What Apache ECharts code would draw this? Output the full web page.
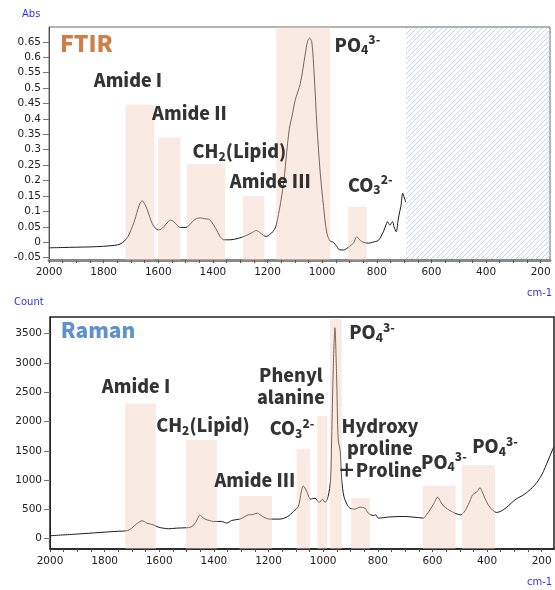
<!DOCTYPE html>
<html><head><meta charset="utf-8">
<script src="https://cdn.jsdelivr.net/npm/echarts@6/dist/echarts.min.js"></script>
<style>html,body{margin:0;padding:0;background:#fff}#c{width:555px;height:590px}</style>
</head><body><div id="c"></div>
<script>
// ---------- FTIR spectrum ----------
const ftirWavenumber = [2000,1950,1900,1850,1800,1760,1740,1725,1710,1690,1675,1665,1658,1650,1640,1623,1610,1600,1590,1578,1565,1555,1545,1530,1519,1500,1490,1476,1460,1445,1430,1416,1405,1390,1373,1360,1340,1320,1295,1275,1255,1241,1230,1215,1205,1192,1180,1170,1160,1150,1140,1130,1120,1110,1099,1080,1062,1054,1046,1038,1029,1019,1007,995,983,971,959,946,938,922,910,898,885,873,865,855,840,831,815,806,794,776,765,761,755,751,746,742,737,729,722,716,712,705,699,694];
const ftirAbs = [-0.018,-0.017,-0.016,-0.015,-0.013,-0.010,-0.006,0.003,0.020,0.062,0.105,0.130,0.134,0.125,0.105,0.062,0.045,0.040,0.042,0.052,0.066,0.072,0.068,0.055,0.048,0.048,0.052,0.066,0.077,0.079,0.076,0.075,0.066,0.045,0.018,0.008,0.008,0.010,0.016,0.023,0.032,0.038,0.033,0.022,0.019,0.025,0.035,0.050,0.090,0.140,0.200,0.290,0.370,0.410,0.460,0.515,0.610,0.650,0.662,0.650,0.540,0.375,0.224,0.116,0.030,0.004,0.000,-0.014,-0.024,-0.025,-0.020,-0.012,-0.002,0.018,0.010,0.002,-0.002,-0.003,0.000,0.002,0.006,0.034,0.060,0.067,0.058,0.056,0.064,0.067,0.050,0.034,0.072,0.100,0.116,0.159,0.143,0.130];

// ---------- Raman spectrum ----------
const ramanWavenumber = [2000,1900,1817,1750,1719,1701,1683,1670,1664,1655,1646,1622,1604,1585,1567,1536,1500,1488,1473,1462,1451,1443,1433,1415,1402,1372,1353,1335,1305,1290,1274,1258,1241,1231,1213,1195,1158,1130,1109,1091,1080,1073,1060,1046,1030,1014,1003,993,982,973,969,963,957,951,945,938,932,924,912,902,884,865,847,835,817,807,798,760,707,650,634,620,609,595,581,570,560,530,497,485,475,463,453,436,426,418,408,390,365,341,320,298,261,225,200,176,158,155];
const ramanCount = [51,80,107,128,136,181,255,295,306,295,267,238,199,180,170,181,188,193,238,320,408,370,335,310,295,295,267,312,335,370,408,412,437,408,357,335,335,380,465,550,800,902,805,675,692,618,675,618,720,1004,1684,2900,3600,2800,1684,1514,1000,720,580,522,505,539,522,437,397,408,352,370,380,360,352,420,493,600,709,630,561,465,408,450,522,640,749,805,873,800,692,539,448,493,570,664,766,919,1089,1344,1543,1570];

// ---------- tick labels ----------
const xTickLabels = [2000,1800,1600,1400,1200,1000,800,600,400,200];
const xMinorTicks = [2000,1950,1900,1850,1800,1750,1700,1650,1600,1550,1500,1450,1400,1350,1300,1250,1200,1150,1100,1050,1000,950,900,850,800,750,700,650,600,550,500,450,400,350,300,250,200];
const ftirYTickLabels = [-0.05,0,0.05,0.1,0.15,0.2,0.25,0.3,0.35,0.4,0.45,0.5,0.55,0.6,0.65];
const ramanYTickLabels = [0,500,1000,1500,2000,2500,3000,3500];

// ---------- assignment bands: [from, to, top] ----------
const ftirBandNames = ['Amide I','Amide II','CH2(Lipid)','Amide III','PO4 3-','CO3 2-'];
const ftirBands = [[1720,1614,0.446],[1601,1519,0.340],[1495,1355,0.254],[1290,1212,0.150],[1168,971,0.72],[905,837,0.115]];
const ftirMasked = [[693,166]];
const ramanBandNames = ['Amide I','CH2(Lipid)','Amide III','CO3 2-','Phenylalanine','PO4 3-','Hydroxyproline+Proline','PO4 3-','PO4 3-'];
const ramanBands = [[1725,1612,2309],[1502,1389,1684],[1307,1187,732],[1097,1048,1531],[1022,985,2093],[975,932,3743],[898,829,698],[635,515,902],[492,371,1259]];

const F = '"Noto Sans CJK JP","Noto Sans",sans-serif';
const TF = '"DejaVu Sans",Verdana,sans-serif';
const BAND = 'rgba(240,208,190,0.42)';

function xy(xs, ys){ return xs.map((x,i)=>[x, ys[i]]); }

// hatch pattern
const pc = document.createElement('canvas'); pc.width = 5; pc.height = 5;
const pctx = pc.getContext('2d');
pctx.strokeStyle = '#c4d3ef'; pctx.lineWidth = 1;
[[0,5,5,0],[-5,5,5,-5],[0,10,10,0]].forEach(l=>{pctx.beginPath();pctx.moveTo(l[0],l[1]);pctx.lineTo(l[2],l[3]);pctx.stroke();});

function bandRender(fill){
  return function(params, api){
    const cs = params.coordSys;
    const a = api.coord([api.value(0), api.value(2)]);
    const b = api.coord([api.value(1), api.value(2)]);
    const x = Math.min(a[0], b[0]), w = Math.abs(a[0]-b[0]);
    const top = Math.max(a[1], cs.y);
    const bottom = cs.y + cs.height;
    return {type:'rect', shape:{x:x, y:top, width:w, height:bottom-top}, style:{fill:fill}};
  };
}
function maskRender(params, api){
  const cs = params.coordSys;
  const a = api.coord([api.value(0), 0]);
  const b = api.coord([api.value(1), 0]);
  const x = Math.max(Math.min(a[0], b[0]), cs.x), x2 = Math.min(Math.max(a[0], b[0]), cs.x + cs.width);
  return {type:'rect', shape:{x:x, y:cs.y+1, width:x2-x, height:cs.height-2}, style:{fill:{image:pc, repeat:'repeat'}}};
}

const W = 900;
const rich = {
  b:{fontFamily:F, fontWeight:W, fontSize:18, color:'#000', lineHeight:22},
  sub:{fontFamily:F, fontWeight:W, fontSize:12, color:'#000', verticalAlign:'bottom', lineHeight:12},
  sup:{fontFamily:F, fontWeight:W, fontSize:12, color:'#000', verticalAlign:'top', lineHeight:12},
  ftir:{fontFamily:F, fontWeight:W, fontSize:23, color:'#c45e1a'},
  raman:{fontFamily:F, fontWeight:W, fontSize:21, color:'#3478bb'}
};
const ftirLabels = [
  [1863,0.644,'{ftir|FTIR}'],
  [1711,0.525,'{b|Amide I}'],
  [1486,0.420,'{b|Amide II}'],
  [1303,0.294,'{b|CH}{sub|2}{b|(Lipid)}'],
  [1190,0.198,'{b|Amide III}'],
  [871,0.640,'{b|PO}{sub|4}{sup|3-}'],
  [824,0.186,'{b|CO}{sub|3}{sup|2-}']
];
const ramanLabels = [
  [1824,3556,'{raman|Raman}'],
  [1685,2609,'{b|Amide I}'],
  [1440,1940,'{b|CH}{sub|2}{b|(Lipid)}'],
  [1118,2604,'{b|Phenyl}\n{b|alanine}'],
  [1114,1884,'{b|CO}{sub|3}{sup|2-}'],
  [821,3527,'{b|PO}{sub|4}{sup|3-}'],
  [792,1548,'{b|Hydroxy}\n{b|proline}\n{b|＋Proline}'],
  [1250,1004,'{b|Amide III}'],
  [558,1315,'{b|PO}{sub|4}{sup|3-}'],
  [371,1582,'{b|PO}{sub|4}{sup|3-}']
];
function labelSeries(list, idx){
  return {type:'scatter', xAxisIndex:idx, yAxisIndex:idx, z:10, symbolSize:1, silent:true,
    itemStyle:{color:'rgba(0,0,0,0)'},
    data: list.map(l=>({value:[l[0],l[1]], label:{formatter:l[2]}})),
    label:{show:true, position:'inside', rich:rich, color:'#000'}};
}

function xAxisCfg(idx, min, lineColor, lineW){
  return {type:'value', gridIndex:idx, min:min, max:2000, inverse:true,
    axisLine:{show:true, onZero:false, lineStyle:{color:lineColor, width:lineW}},
    axisTick:{show:true, length:3, customValues:xMinorTicks, lineStyle:{color:'#555'}},
    axisLabel:{customValues:xTickLabels, formatter:v=>String(v), fontFamily:TF, fontSize:10.5, color:'#222', margin:7},
    splitLine:{show:false}};
}
function yAxisCfg(idx, min, max, ticks, lineColor){
  return {type:'value', gridIndex:idx, min:min, max:max,
    axisLine:{show:true, onZero:false, lineStyle:{color:lineColor, width:1}},
    axisTick:{show:true, length:6, customValues:ticks, lineStyle:{color:'#777'}},
    axisLabel:{customValues:ticks, formatter:v=>String(v), fontFamily:TF, fontSize:10.5, color:'#222', margin:8},
    splitLine:{show:false}};
}

const chart = echarts.init(document.getElementById('c'), null, {renderer:'canvas'});
chart.setOption({
  animation:false,
  grid:[
    {left:49, top:27, width:501, height:233, show:true, borderColor:'#666', borderWidth:1},
    {left:50, top:317, width:504, height:232, show:true, borderColor:'#222', borderWidth:1.5}
  ],
  xAxis:[xAxisCfg(0,166,'#8a8a8a',3), xAxisCfg(1,155,'#222',1.5)],
  yAxis:[yAxisCfg(0,-0.0575,0.698,ftirYTickLabels,'#555'), yAxisCfg(1,-175,3783,ramanYTickLabels,'#222')],
  graphic:[
    {type:'text', left:22, top:9, style:{text:'Abs', fontFamily:TF, fontSize:10, fill:'#3333ee'}},
    {type:'text', left:527, top:288, style:{text:'cm-1', fontFamily:TF, fontSize:10, fill:'#3333ee'}},
    {type:'text', left:14, top:297, style:{text:'Count', fontFamily:TF, fontSize:10, fill:'#3333ee'}},
    {type:'text', left:527, top:577, style:{text:'cm-1', fontFamily:TF, fontSize:10, fill:'#3333ee'}}
  ],
  series:[
    {type:'custom', name:'masked', xAxisIndex:0, yAxisIndex:0, z:1, silent:true, renderItem:maskRender, encode:{x:[0,1]}, data:ftirMasked},
    {type:'line', name:'FTIR', xAxisIndex:0, yAxisIndex:0, z:2, showSymbol:false, silent:true, smooth:0.3,
      lineStyle:{color:'#1a1a1a', width:1}, data:xy(ftirWavenumber, ftirAbs)},
    {type:'custom', name:'FTIR bands', xAxisIndex:0, yAxisIndex:0, z:3, silent:true, renderItem:bandRender(BAND), encode:{x:[0,1], y:2}, data:ftirBands},
    labelSeries(ftirLabels,0),
    {type:'line', name:'Raman', xAxisIndex:1, yAxisIndex:1, z:2, showSymbol:false, silent:true, smooth:0.3,
      lineStyle:{color:'#1a1a1a', width:1}, data:xy(ramanWavenumber, ramanCount)},
    {type:'custom', name:'Raman bands', xAxisIndex:1, yAxisIndex:1, z:3, silent:true, renderItem:bandRender(BAND), encode:{x:[0,1], y:2}, data:ramanBands},
    labelSeries(ramanLabels,1)
  ]
});
</script></body></html>
